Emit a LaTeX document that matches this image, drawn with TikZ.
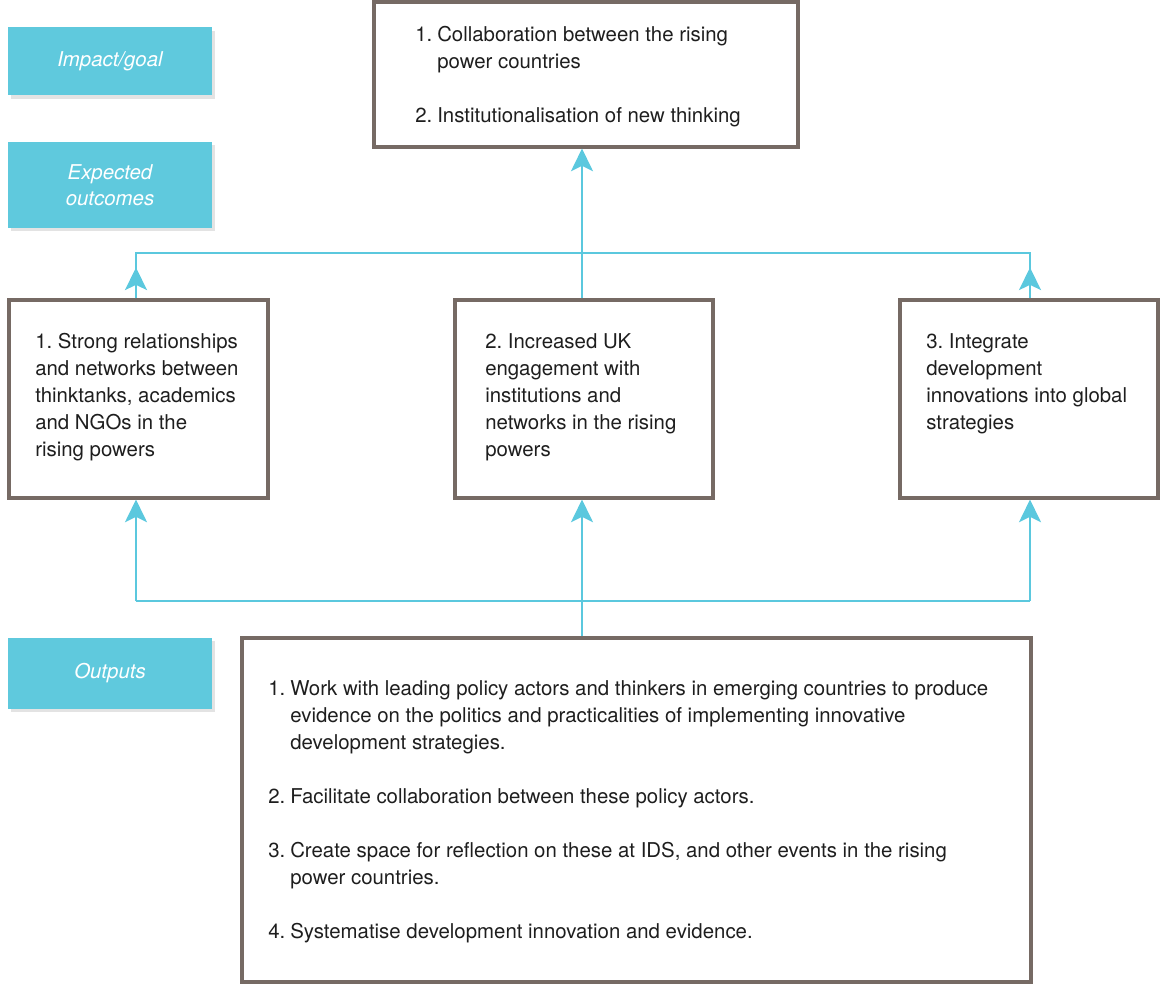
\documentclass[tikz,border=0pt]{standalone}
\usepackage{fontspec}
\setmainfont{TeX Gyre Heros}
\usetikzlibrary{arrows.meta,shadows}

\definecolor{stagefill}{RGB}{95,201,221}
\definecolor{flowline}{RGB}{91,200,222}
\definecolor{frameline}{RGB}{118,106,100}
\definecolor{bodytext}{RGB}{30,30,30}

\newcommand{\itemno}[1]{\makebox[16.5pt][l]{#1}}
\newcommand{\subline}{\hspace*{16.5pt}}

\tikzset{
  stage/.style={fill=stagefill, text=white, align=center, inner sep=0pt,
    font=\fontsize{15.3}{19.5}\selectfont\itshape, minimum width=153pt,
    drop shadow={shadow xshift=2.5pt, shadow yshift=-2.5pt, opacity=0.22}},
  frame/.style={draw=frameline, line width=2.3pt, inner sep=0pt},
  body/.style={inner sep=0pt, align=left, text=bodytext,
    font=\fontsize{15.3}{20.25}\selectfont},
  flow/.style={draw=flowline, line width=1.5pt},
  tip/.style={flow, -{Stealth[length=17pt, width=16.5pt, inset=4pt]}}
}

\begin{document}
\begin{tikzpicture}[x=0.75pt, y=-0.75pt]
  \useasboundingbox (0,0) rectangle (1160,984);

  \node[stage, minimum height=51pt] (impact) at (110,61.5) {Impact/goal};
  \node[stage, minimum height=64.5pt] (expect) at (110,185) {Expected\\outcomes};
  \node[stage, minimum height=53.25pt] (outlab) at (110,673) {Outputs};

  \node[frame, minimum width=318pt, minimum height=108.75pt] (goal) at (586,74.5) {};
  \node[frame, minimum width=194.25pt, minimum height=148.5pt] (o1) at (138.5,399) {};
  \node[frame, minimum width=193.5pt, minimum height=148.5pt] (o2) at (584,399) {};
  \node[frame, minimum width=193.5pt, minimum height=148.5pt] (o3) at (1029,399) {};
  \node[frame, minimum width=591.75pt, minimum height=258pt] (out) at (636.5,810) {};

  % text blocks sit on the baseline of their last line
  \node[body, anchor=base west] (goaltext) at (415,123)
    {\itemno{1.}Collaboration between the rising\\
     \subline power countries\\[20.25pt]
     \itemno{2.}Institutionalisation of new thinking};
  \node[body, anchor=base west] (o1text) at (35,456)
    {1.\ Strong relationships\\and networks between\\thinktanks, academics\\and NGOs in the\\rising powers};
  \node[body, anchor=base west] (o2text) at (485,456)
    {2.\ Increased UK\\engagement with\\institutions and\\networks in the rising\\powers};
  \node[body, anchor=base west] (o3text) at (926,429)
    {3.\ Integrate\\development\\innovations into global\\strategies};
  \node[body, anchor=base west] (outtext) at (268,938)
    {\itemno{1.}Work with leading policy actors and thinkers in emerging countries to produce\\
     \subline evidence on the politics and practicalities of implementing innovative\\
     \subline development strategies.\\[20.25pt]
     \itemno{2.}Facilitate collaboration between these policy actors.\\[20.25pt]
     \itemno{3.}Create space for reflection on these at IDS, and other events in the rising\\
     \subline power countries.\\[20.25pt]
     \itemno{4.}Systematise development innovation and evidence.};

  \coordinate (tl) at (136,253);
  \coordinate (tm) at (582,253);
  \coordinate (tr) at (1030,253);
  \coordinate (bl) at (136,601);
  \coordinate (br) at (1030,601);

  \draw[flow] (o1.north -| tl) -- (tl) -- (tr) -- (o3.north -| tr);
  \draw[tip] (o1.north -| tl) -- ++(0,-31);
  \draw[tip] (o3.north -| tr) -- ++(0,-31);
  \draw[tip] (o2.north -| tm) -- (goal.south -| tm);

  \draw[flow] (bl) -- (br);
  \draw[tip] (out.north -| tm) -- (o2.south -| tm);
  \draw[tip] (bl) -- (o1.south -| bl);
  \draw[tip] (br) -- (o3.south -| br);
\end{tikzpicture}
\end{document}
